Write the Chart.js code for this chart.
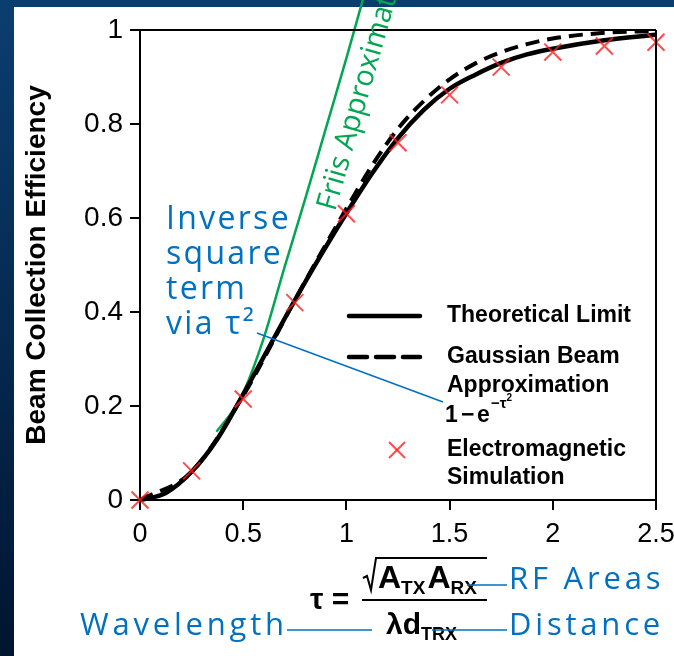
<!DOCTYPE html>
<html lang="en">
<head>
    <meta charset="UTF-8">
    <title>Beam Collection Efficiency</title>
    <script src="https://cdn.jsdelivr.net/npm/chart.js"></script>
    <style>
        body {
            margin: 0;
            width: 674px;
            height: 656px;
            overflow: hidden;
            background: linear-gradient(#0b3e70, #001530);
        }
        .wrap { position: relative; width: 674px; height: 656px; }
        .panel { position: absolute; left: 14px; top: 7px; right: 0; bottom: 0; background: #ffffff; }
        canvas { position: absolute; left: 0; top: 0; }
    </style>
</head>
<body>
    <div class="wrap">
        <div class="panel"></div>
        <canvas id="beamChart" width="674" height="656"></canvas>
    </div>

    <script>
        // values
        const theoryTau = [0, 0.125, 0.25, 0.375, 0.5, 0.625, 0.75, 0.875, 1.0, 1.125, 1.25, 1.375, 1.5, 1.625, 1.75, 1.875, 2.0, 2.25, 2.5];
        const theoryEff = [0, 0.015, 0.06, 0.13, 0.225, 0.325, 0.425, 0.52, 0.61, 0.695, 0.77, 0.83, 0.875, 0.905, 0.93, 0.948, 0.96, 0.978, 0.99];

        const gaussTau = [0, 0.25, 0.5, 0.75, 0.875, 1.0, 1.125, 1.25, 1.375, 1.5, 1.625, 1.75, 1.875, 2.0, 2.25, 2.5];
        const gaussEff = [0, 0.06, 0.222, 0.425, 0.524, 0.62, 0.712, 0.79, 0.849, 0.895, 0.929, 0.953, 0.97, 0.982, 0.994, 0.998];

        const friisTau = [0.37, 0.45, 0.5, 0.6, 0.7, 0.8, 0.9, 1.0, 1.08];
        const friisEff = [0.145, 0.19, 0.228, 0.345, 0.495, 0.64, 0.79, 0.94, 1.065];

        const simTau = [0, 0.25, 0.5, 0.75, 1.0, 1.25, 1.5, 1.75, 2.0, 2.25, 2.5];
        const simEff = [0, 0.062, 0.215, 0.42, 0.609, 0.76, 0.862, 0.921, 0.953, 0.966, 0.974];

        const xTickValues = [0, 0.5, 1, 1.5, 2, 2.5];
        const xTickLabels = ['0', '0.5', '1', '1.5', '2', '2.5'];
        const yTickValues = [0, 0.2, 0.4, 0.6, 0.8, 1];
        const yTickLabels = ['0', '0.2', '0.4', '0.6', '0.8', '1'];

        const BLUE = '#0070c0';
        const GREEN = '#00a651';
        const SIM_RED = 'rgba(255, 30, 30, 0.8)';
        const ARIAL = '"Liberation Sans", Arial, sans-serif';
        const SLIDE = '"Open Sans", "Noto Sans", sans-serif';

        const pts = (xs, ys) => xs.map((x, i) => ({ x: x, y: ys[i] }));

        function textWithSub(ctx, base, sub, x, y, baseFont, subFont, drop) {
            ctx.font = baseFont;
            ctx.fillText(base, x, y);
            x += ctx.measureText(base).width;
            ctx.font = subFont;
            ctx.fillText(sub, x, y + drop);
            return x + ctx.measureText(sub).width;
        }

        function line(ctx, x1, y1, x2, y2) {
            ctx.beginPath();
            ctx.moveTo(x1, y1);
            ctx.lineTo(x2, y2);
            ctx.stroke();
        }

        const overlay = {
            id: 'overlay',
            afterDraw(chart) {
                const ctx = chart.ctx;
                const a = chart.chartArea;
                ctx.save();

                // box around plot
                ctx.strokeStyle = '#000';
                ctx.lineWidth = 2;
                line(ctx, a.left, a.top, a.right, a.top);
                line(ctx, a.right, a.top, a.right, a.bottom);

                // Friis label along the green line
                ctx.save();
                ctx.translate(335, 212);
                ctx.rotate(-74 * Math.PI / 180);
                ctx.fillStyle = GREEN;
                ctx.font = '29px ' + SLIDE;
                ctx.textBaseline = 'alphabetic';
                ctx.fillText('Friis Approximation', 0, 0);
                ctx.restore();

                // inverse square note
                ctx.fillStyle = BLUE;
                ctx.font = '32px ' + SLIDE;
                ctx.letterSpacing = '2.3px';
                ctx.textBaseline = 'alphabetic';
                ['Inverse', 'square', 'term', 'via \u03c4\u00b2'].forEach((t, i) => {
                    ctx.fillText(t, 166, 229 + i * 35);
                });
                ctx.letterSpacing = '0px';
                ctx.strokeStyle = BLUE;
                ctx.lineWidth = 1.5;
                line(ctx, 257, 333, 443, 402);

                // legend
                ctx.strokeStyle = '#000';
                ctx.lineWidth = 4.5;
                ctx.lineCap = 'round';
                line(ctx, 349, 316, 420, 316);
                ctx.setLineDash([18, 9]);
                line(ctx, 349, 357, 420, 357);
                ctx.setLineDash([]);
                ctx.lineCap = 'butt';
                ctx.strokeStyle = SIM_RED;
                ctx.lineWidth = 2;
                line(ctx, 389, 442, 405, 458);
                line(ctx, 389, 458, 405, 442);

                ctx.fillStyle = '#000';
                ctx.font = 'bold 23px ' + ARIAL;
                ctx.textBaseline = 'middle';
                ctx.fillText('Theoretical Limit', 447, 316);
                ctx.fillText('Gaussian Beam', 447, 357);
                ctx.fillText('Approximation', 447, 386);
                ctx.fillText('1', 445, 416);
                ctx.fillText('\u2212', 461, 416);
                ctx.fillText('e', 477, 416);
                ctx.font = 'bold 15px ' + ARIAL;
                ctx.fillText('\u2212\u03c4', 491, 404);
                const supEnd = 491 + ctx.measureText('\u2212\u03c4').width;
                ctx.font = 'bold 10px ' + ARIAL;
                ctx.fillText('2', supEnd, 398);
                ctx.font = 'bold 23px ' + ARIAL;
                ctx.fillText('Electromagnetic', 447, 450);
                ctx.fillText('Simulation', 447, 478);

                // tau formula below the axis
                ctx.textBaseline = 'alphabetic';
                ctx.fillStyle = '#000';
                ctx.font = 'bold 30px ' + ARIAL;
                ctx.fillText('\u03c4 =', 310, 609);
                ctx.lineWidth = 2;
                ctx.strokeStyle = '#000';
                line(ctx, 362, 600, 487, 600);
                ctx.beginPath();
                ctx.moveTo(363, 578);
                ctx.lineTo(367, 576);
                ctx.lineTo(371, 590);
                ctx.lineTo(376, 558);
                ctx.lineTo(487, 558);
                ctx.stroke();
                let nx = textWithSub(ctx, 'A', 'TX', 378, 588, 'bold 32px ' + ARIAL, 'bold 19px ' + ARIAL, 6);
                textWithSub(ctx, 'A', 'RX', nx + 2, 588, 'bold 32px ' + ARIAL, 'bold 19px ' + ARIAL, 6);
                textWithSub(ctx, '\u03bbd', 'TRX', 386, 634, 'bold 30px ' + ARIAL, 'bold 18px ' + ARIAL, 6);

                ctx.fillStyle = BLUE;
                ctx.strokeStyle = BLUE;
                ctx.lineWidth = 1.5;
                ctx.font = '31px ' + SLIDE;
                ctx.letterSpacing = '3.8px';
                ctx.fillText('RF Areas', 509, 589);
                ctx.fillText('Wavelength', 80, 635);
                ctx.fillText('Distance', 509, 635);
                ctx.letterSpacing = '0px';
                line(ctx, 467, 585, 507, 585);
                line(ctx, 287, 630, 372, 630);
                line(ctx, 432, 630, 507, 630);

                ctx.restore();
            }
        };

        const ctx = document.getElementById('beamChart').getContext('2d');
        new Chart(ctx, {
            type: 'line',
            data: {
                datasets: [
                    {
                        label: 'Electromagnetic Simulation',
                        data: pts(simTau, simEff),
                        showLine: false,
                        pointStyle: 'crossRot',
                        pointRadius: 12,
                        pointBorderWidth: 2,
                        pointBorderColor: SIM_RED,
                        pointBackgroundColor: SIM_RED,
                        clip: false
                    },
                    {
                        label: 'Theoretical Limit',
                        data: pts(theoryTau, theoryEff),
                        borderColor: '#000',
                        borderWidth: 4.5,
                        pointRadius: 0,
                        cubicInterpolationMode: 'monotone',
                        clip: false
                    },
                    {
                        label: 'Gaussian Beam Approximation',
                        data: pts(gaussTau, gaussEff),
                        borderColor: '#000',
                        borderWidth: 4,
                        borderDash: [14, 8],
                        pointRadius: 0,
                        cubicInterpolationMode: 'monotone',
                        clip: false
                    },
                    {
                        label: 'Friis Approximation',
                        data: pts(friisTau, friisEff),
                        borderColor: GREEN,
                        borderWidth: 2.5,
                        pointRadius: 0,
                        cubicInterpolationMode: 'monotone',
                        clip: false
                    }
                ]
            },
            options: {
                responsive: false,
                animation: false,
                events: [],
                layout: { padding: { left: 0, top: 30, right: 18, bottom: 0 } },
                plugins: { legend: { display: false }, tooltip: { enabled: false } },
                scales: {
                    x: {
                        type: 'linear',
                        min: 0,
                        max: 2.5,
                        afterBuildTicks: s => { s.ticks = xTickValues.map(v => ({ value: v })); },
                        afterFit: s => { s.height = 156; s.paddingLeft = 0; s.paddingRight = 0; },
                        grid: { drawOnChartArea: false, drawTicks: true, tickLength: 10, color: '#000', lineWidth: 2 },
                        border: { color: '#000', width: 2 },
                        ticks: {
                            color: '#000',
                            font: { family: ARIAL, size: 27 },
                            padding: 8,
                            maxRotation: 0,
                            callback: (v, i) => xTickLabels[i]
                        }
                    },
                    y: {
                        min: 0,
                        max: 1,
                        afterBuildTicks: s => { s.ticks = yTickValues.map(v => ({ value: v })); },
                        afterFit: s => { s.width = 140; },
                        grid: { drawOnChartArea: false, drawTicks: true, tickLength: 10, color: '#000', lineWidth: 2 },
                        border: { color: '#000', width: 2 },
                        ticks: {
                            color: '#000',
                            font: { family: ARIAL, size: 28 },
                            padding: 7,
                            callback: (v, i) => yTickLabels[i]
                        },
                        title: {
                            display: true,
                            text: 'Beam Collection Efficiency',
                            color: '#000',
                            font: { family: ARIAL, size: 28, weight: 'bold' },
                            padding: { top: 20, bottom: 0 }
                        }
                    }
                }
            },
            plugins: [overlay]
        });
    </script>
</body>
</html>
